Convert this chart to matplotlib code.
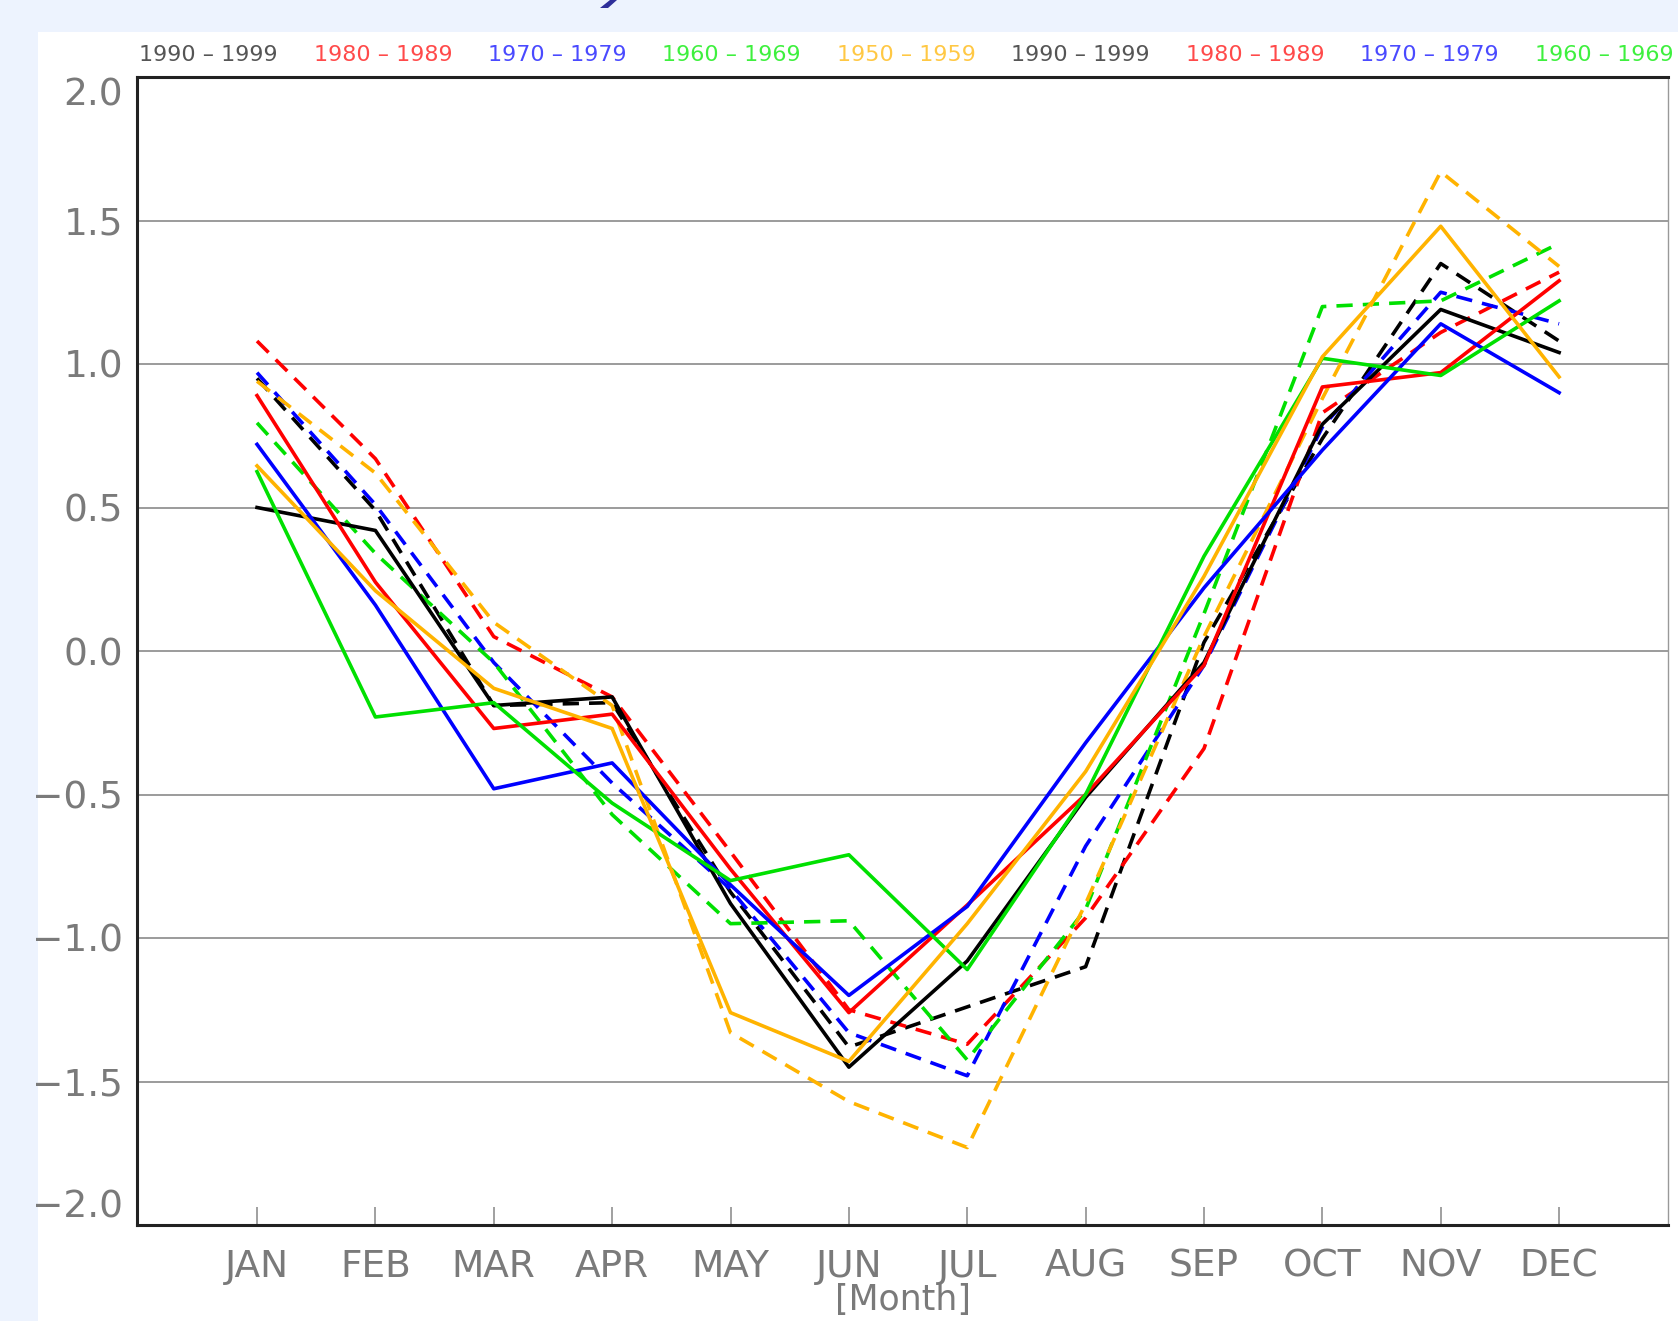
import matplotlib
matplotlib.use('Agg')
import matplotlib.pyplot as plt
from matplotlib.patches import Rectangle, Polygon

#months on the x axis
months = ['JAN', 'FEB', 'MAR', 'APR', 'MAY', 'JUN', 'JUL', 'AUG', 'SEP', 'OCT', 'NOV', 'DEC']

#solid lines, one per decade
solid_1990 = [0.50, 0.42, -0.19, -0.16, -0.88, -1.45, -1.08, -0.51, -0.04, 0.79, 1.19, 1.04]
solid_1980 = [0.89, 0.24, -0.27, -0.22, -0.76, -1.26, -0.885, -0.50, -0.05, 0.92, 0.97, 1.29]
solid_1970 = [0.72, 0.16, -0.48, -0.39, -0.815, -1.20, -0.89, -0.32, 0.22, 0.70, 1.14, 0.90]
solid_1960 = [0.625, -0.23, -0.18, -0.53, -0.80, -0.71, -1.11, -0.50, 0.33, 1.02, 0.96, 1.22]
solid_1950 = [0.645, 0.21, -0.13, -0.27, -1.26, -1.43, -0.95, -0.42, 0.26, 1.025, 1.48, 0.955]

#dashed lines, second set
dashed_1990 = [0.95, 0.49, -0.19, -0.18, -0.84, -1.38, -1.24, -1.10, 0.03, 0.74, 1.35, 1.08]
dashed_1980 = [1.08, 0.67, 0.05, -0.16, -0.70, -1.25, -1.37, -0.93, -0.34, 0.83, 1.11, 1.32]
dashed_1970 = [0.97, 0.51, -0.04, -0.46, -0.83, -1.33, -1.48, -0.68, -0.05, 0.78, 1.25, 1.14]
dashed_1960 = [0.795, 0.34, -0.04, -0.57, -0.95, -0.94, -1.425, -0.90, 0.13, 1.20, 1.22, 1.42]
dashed_1950 = [0.94, 0.62, 0.10, -0.19, -1.33, -1.57, -1.73, -0.88, 0.05, 0.88, 1.67, 1.34]

line_colors = ['#000000', '#ff0000', '#0000ff', '#00e000', '#ffb300']

#legend text along the top (the last ones are cut off by the picture edge)
legend_labels = ['1990 \u2013 1999', '1980 \u2013 1989', '1970 \u2013 1979', '1960 \u2013 1969', '1950 \u2013 1959',
                 '1990 \u2013 1999', '1980 \u2013 1989', '1970 \u2013 1979', '1960 \u2013 1969']
legend_colors = ['#555555', '#ff4a4a', '#4a4aff', '#3ef03e', '#ffc844',
                 '#555555', '#ff4a4a', '#4a4aff', '#3ef03e']

y_ticks = [-2.0, -1.5, -1.0, -0.5, 0.0, 0.5, 1.0, 1.5, 2.0]

W, H = 1678, 1321
fig = plt.figure(figsize=(W / 100, H / 100), dpi=100, facecolor='#edf3fe')

#white panel behind the plot
fig.patches.append(Rectangle((38 / W, 0), 1, 1 - 32 / H, transform=fig.transFigure,
                             facecolor='white', edgecolor='none', zorder=-5))
#bit of the page title stroke that pokes in at the top
fig.patches.append(Polygon([(610 / W, 1), (617 / W, 1), (608 / W, 1 - 8 / H), (600 / W, 1 - 8 / H)],
                           closed=True, transform=fig.transFigure,
                           facecolor='#2e2e9a', edgecolor='none', zorder=-4))

ax = fig.add_axes([137 / W, 1 - 1225 / H, (1668 - 137) / W, (1225 - 77) / H])
ax.set_facecolor('white')

x = list(range(1, 13))
solids = [solid_1990, solid_1980, solid_1970, solid_1960, solid_1950]
dashes = [dashed_1990, dashed_1980, dashed_1970, dashed_1960, dashed_1950]

for vals, c in zip(dashes, line_colors):
    ax.plot(x, vals, color=c, lw=2.6, ls=(0, (4.5, 2.8)), zorder=3)
for vals, c in zip(solids, line_colors):
    ax.plot(x, vals, color=c, lw=2.6, zorder=4)

ax.set_xlim(-0.014, 12.92)
ax.set_ylim(-2.0, 2.0)

ax.set_yticks(y_ticks)
ax.set_yticklabels(['\u2212%.1f' % abs(v) if v < 0 else '%.1f' % v for v in y_ticks])
ax.yaxis.grid(True, color='#8a8a8a', lw=1.2)
ax.set_axisbelow(True)
ax.tick_params(axis='y', length=0, pad=10, labelsize=27, labelcolor='#7a7a7a')
labels = ax.get_yticklabels()
labels[0].set_va('bottom')
labels[-1].set_va('top')

ax.set_xticks(x)
ax.set_xticklabels(months)
ax.tick_params(axis='x', direction='in', length=13, width=1.3, color='#999999',
               pad=17, labelsize=27, labelcolor='#7a7a7a')

for s in ['left', 'bottom', 'top']:
    ax.spines[s].set_linewidth(2.2)
    ax.spines[s].set_color('#222222')
ax.spines['right'].set_linewidth(1.0)
ax.spines['right'].set_color('#999999')

#x label sits right at the bottom edge, kept fully inside the picture
ax.set_xlabel('[Month]', fontsize=25, color='#7a7a7a', labelpad=-1)

#legend row
for i, (lab, c) in enumerate(zip(legend_labels, legend_colors)):
    fig.text((139 + 174.5 * i) / W, 1 - 55 / H, lab, color=c, fontsize=16,
             ha='left', va='center')

fig.savefig('out.png', dpi=100, facecolor=fig.get_facecolor())
